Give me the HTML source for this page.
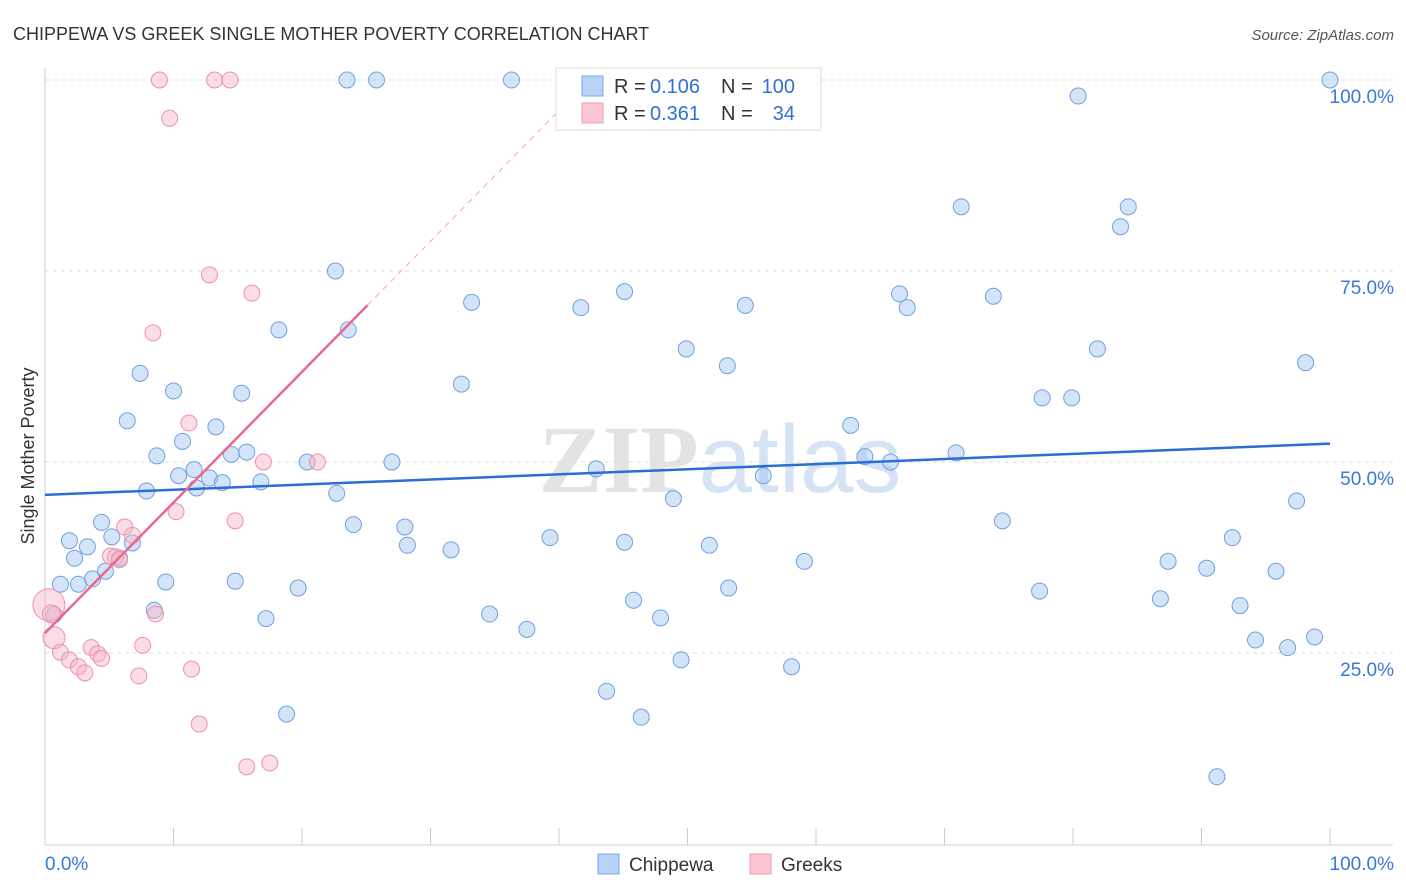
<!DOCTYPE html>
<html><head><meta charset="utf-8"><style>
body{margin:0;background:#fff;font-family:"Liberation Sans",sans-serif;}
#wrap{position:relative;width:1406px;height:892px;overflow:hidden;}
</style></head><body>
<div id="wrap">
<svg id="svg" width="1406" height="892" xmlns="http://www.w3.org/2000/svg">
<text x="13" y="40" font-size="18" fill="#333">CHIPPEWA VS GREEK SINGLE MOTHER POVERTY CORRELATION CHART</text>
<text x="1394" y="40" font-size="15" fill="#555" text-anchor="end" font-style="italic">Source: ZipAtlas.com</text>
<text x="720" y="492" font-size="96" fill="#e3e3e3" text-anchor="middle" font-family="Liberation Serif" font-weight="bold">ZIP<tspan fill="#d6e3f5" font-family="Liberation Sans" font-weight="normal">atlas</tspan></text>
<text transform="translate(34,456) rotate(-90)" font-size="18" fill="#333" text-anchor="middle">Single Mother Poverty</text>
<g id="grid"></g><g id="marks"></g><g id="trend"></g>
<g>
<rect x="556" y="68" width="265" height="62" fill="#fff" stroke="#ddd"/>
<rect x="582" y="76" width="21" height="20" fill="#b8d2f5" stroke="#7aa8e8"/>
<rect x="582" y="103" width="21" height="20" fill="#fcc6d5" stroke="#f09ab4"/>
<text x="614" y="93" font-size="20" fill="#333">R =</text>
<text x="650" y="93" font-size="20" fill="#2f6fd6">0.106</text>
<text x="721" y="93" font-size="20" fill="#333">N =</text>
<text x="795" y="93" font-size="20" fill="#2f6fd6" text-anchor="end">100</text>
<text x="614" y="120" font-size="20" fill="#333">R =</text>
<text x="650" y="120" font-size="20" fill="#2f6fd6">0.361</text>
<text x="721" y="120" font-size="20" fill="#333">N =</text>
<text x="795" y="120" font-size="20" fill="#2f6fd6" text-anchor="end">34</text>
</g>
<g>
<rect x="598" y="854" width="21" height="20" fill="#b8d2f5" stroke="#7aa8e8"/>
<text x="629" y="871" font-size="19" fill="#333">Chippewa</text>
<rect x="750" y="854" width="21" height="20" fill="#fcc6d5" stroke="#f09ab4"/>
<text x="781" y="871" font-size="19" fill="#333">Greeks</text>
</g>
<text x="45" y="870" font-size="19" fill="#3a78d8">0.0%</text>
<text x="1394" y="870" font-size="19" fill="#3a78d8" text-anchor="end">100.0%</text>
</svg></div>
<script>
const blueX=[23.5,25.8,36.3,100,80.4,71.3,84.3,83.7,22.6,45.1,66.5,73.8,33.2,41.7,54.5,67.1,18.2,23.6,49.9,81.9,53.1,98.1,7.4,32.4,10.0,15.3,77.6,79.9,6.4,62.7,13.3,10.7,8.7,14.5,15.7,63.8,70.9,20.4,27.0,65.8,11.6,10.4,42.9,12.8,55.9,13.8,11.8,16.8,7.9,22.7,48.9,97.4,4.4,24.0,74.5,28.0,1.9,5.2,39.3,45.1,92.4,3.3,28.2,6.8,31.6,51.7,2.3,5.8,59.1,87.4,4.7,90.4,95.8,3.7,1.2,2.6,9.4,14.8,19.7,53.2,77.4,45.8,86.8,93.0,8.5,34.6,0.7,17.2,47.9,37.5,94.2,98.8,96.7,49.5,58.1,43.7,46.4,18.8,91.2];
const blueY=[100,100,100,100,97.9,83.4,83.4,80.8,75.0,72.3,72.0,71.7,70.9,70.2,70.5,70.2,67.3,67.3,64.8,64.8,62.6,63.0,61.6,60.2,59.3,59.0,58.4,58.4,55.4,54.8,54.6,52.7,50.8,51.0,51.3,50.7,51.2,50.0,50.0,50.0,49.0,48.2,49.1,47.9,48.2,47.3,46.6,47.4,46.2,45.9,45.2,44.9,42.1,41.8,42.3,41.5,39.7,40.2,40.1,39.5,40.1,38.9,39.1,39.4,38.5,39.1,37.4,37.4,37.0,37.0,35.7,36.1,35.7,34.7,34.0,34.0,34.3,34.4,33.5,33.5,33.1,31.9,32.1,31.2,30.6,30.1,30.0,29.5,29.6,28.1,26.7,27.1,25.7,24.1,23.2,20.0,16.6,17.0,8.8];
const pinkX=[8.9,13.2,14.4,9.7,12.8,16.1,8.4,11.2,17.0,21.2,10.2,14.8,6.2,6.8,5.1,5.5,5.8,0.3,0.5,0.7,7.6,3.6,1.2,4.1,1.9,4.4,2.6,3.1,11.4,7.3,8.6,12.0,15.7,17.5];
const pinkY=[100,100,100,95.0,74.5,72.1,66.9,55.1,50.0,50.0,43.5,42.3,41.5,40.4,37.7,37.6,37.2,31.3,30.1,27.0,26.0,25.7,25.1,24.9,24.1,24.3,23.2,22.4,22.9,22.0,30.1,15.7,10.1,10.6];
const pinkR=[8,8,8,8,8,8,8,8,8,8,8,8,8,8,8,8,8,16,9,11,8,8,8,8,8,8,8,8,8,8,8,8,8,8];
const yTicks=[25,50,75,100];
const yTickLabels=["25.0%","50.0%","75.0%","100.0%"];
const xTicks=[0,10,20,30,40,50,60,70,80,90,100];
const blueTrend=[45.7,52.4];
const pinkTrend=[27.6,1.71];
const NS="http://www.w3.org/2000/svg";
const sx=v=>45+v*12.85, sy=v=>844-v*7.64;
function mk(tag,attrs,parent){const e=document.createElementNS(NS,tag);for(const k in attrs)e.setAttribute(k,attrs[k]);parent.appendChild(e);return e;}
const grid=document.getElementById('grid'),marks=document.getElementById('marks'),trend=document.getElementById('trend');
yTicks.forEach((t,i)=>{
 const l=mk('line',{x1:45,x2:1393,y1:sy(t),y2:sy(t),stroke:'#ddd','stroke-dasharray':'4,4'},grid);
 
 
 const tx=mk('text',{x:1394,y:sy(t)+23,'font-size':19,fill:'#3a78d8','text-anchor':'end'},grid);
 tx.textContent=yTickLabels[i];
 
 
});
const ax=mk('line',{x1:45,x2:1393,y1:845,y2:845,stroke:'#ccc'},grid);


const ay=mk('line',{x1:45,x2:45,y1:68,y2:845,stroke:'#ccc'},grid);


xTicks.forEach(t=>{
 const l=mk('line',{x1:sx(t),x2:sx(t),y1:828,y2:845,stroke:'#ccc'},grid);
 
 
});
blueX.forEach((x,i)=>{
 const c=mk('circle',{cx:sx(x),cy:sy(blueY[i]),r:8,fill:'rgba(160,195,240,0.45)',stroke:'#6fa0e0','stroke-width':1},marks);
 
 
});
pinkX.forEach((x,i)=>{
 const c=mk('circle',{cx:sx(x),cy:sy(pinkY[i]),r:pinkR[i],fill:'rgba(247,180,200,0.45)',stroke:'#ef8fab','stroke-width':1},marks);
 
 
});
const bt=mk('line',{x1:sx(0),y1:sy(blueTrend[0]),x2:sx(100),y2:sy(blueTrend[1]),stroke:'#2a6dd3','stroke-width':2.5},trend);


const pEnd=25.1, pTop=(100-pinkTrend[0])/pinkTrend[1];
const pt=mk('line',{x1:sx(0),y1:sy(pinkTrend[0]),x2:sx(pEnd),y2:sy(pinkTrend[0]+pinkTrend[1]*pEnd),stroke:'#e8688f','stroke-width':2.5},trend);


const pd=mk('line',{x1:sx(pEnd),y1:sy(pinkTrend[0]+pinkTrend[1]*pEnd),x2:sx(pTop),y2:sy(100),stroke:'#f0a8bd','stroke-width':1,'stroke-dasharray':'6,5'},trend);


</script>
</body></html>
